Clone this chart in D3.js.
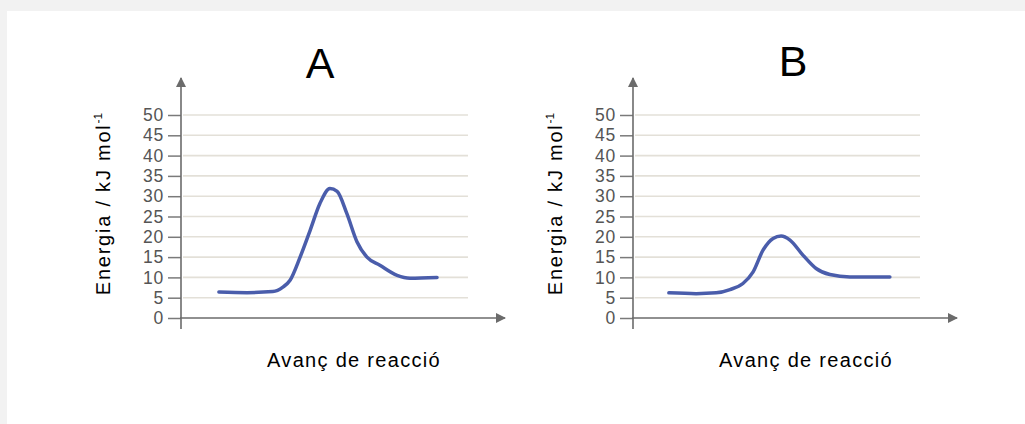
<!DOCTYPE html>
<html>
<head>
<meta charset="utf-8">
<script src="https://cdn.jsdelivr.net/npm/d3@7"></script>
<style>
  html, body { margin: 0; padding: 0; background: #f2f2f2; }
  svg { display: block; }
</style>
</head>
<body>
<svg id="chart" width="1025" height="424"></svg>
<script>
// values (reaction progress 0-100, energy kJ/mol)
var yTicks = [0, 5, 10, 15, 20, 25, 30, 35, 40, 45, 50];
var progressA = [13.2, 23, 32, 35.5, 38, 41.5, 45, 48.4, 51.9, 54.4, 57.8, 61.3, 64.8, 69.3, 75.3, 79.8, 89.2];
var energyA   = [6.4, 6.25, 6.5, 7.6, 9.3, 15, 21.6, 28.2, 31.9, 31.2, 25.7, 18.8, 15, 13, 10.5, 9.8, 10];
var progressB = [12.5, 22, 29, 33.8, 38.3, 41.8, 45.3, 48.8, 51.6, 54.7, 59.2, 63.8, 68.6, 75.6, 89.5];
var energyB   = [6.2, 6.0, 6.2, 7.0, 8.5, 11.3, 16.7, 19.6, 20.2, 19.2, 15.5, 12.2, 10.7, 10.1, 10.1];
var titles = ["A", "B"];
var yLabel = "Energia / kJ mol";
var xLabel = "Avanç de reacció";

var svg = d3.select("#chart");
svg.append("rect").attr("x", 7).attr("y", 11).attr("width", 1018).attr("height", 413).attr("fill", "#fff");

var defs = svg.append("defs");
defs.append("marker")
  .attr("id", "arrow")
  .attr("viewBox", "0 0 10 10")
  .attr("refX", 9).attr("refY", 5)
  .attr("markerWidth", 16).attr("markerHeight", 10)
  .attr("markerUnits", "userSpaceOnUse")
  .attr("orient", "auto")
  .append("path")
  .attr("d", "M0,0 L10,5 L0,10 z")
  .attr("fill", "#6b6b6b");

var font = "'Liberation Sans', Arial, Helvetica, sans-serif";

var y = d3.scaleLinear().domain([0, 50]).range([318, 115]);
var panels = [
  { left: 181, title: titles[0], prog: progressA, en: energyA, titleX: 320, titleY: 78 },
  { left: 633, title: titles[1], prog: progressB, en: energyB, titleX: 793, titleY: 76 }
];

panels.forEach(function (p) {
  var x = d3.scaleLinear().domain([0, 100]).range([p.left, p.left + 287]);
  var g = svg.append("g");

  // grid lines
  g.selectAll(".grid")
    .data(yTicks.filter(function (d) { return d > 0; }))
    .enter().append("line")
    .attr("x1", p.left + 2).attr("x2", x(100))
    .attr("y1", function (d) { return y(d); })
    .attr("y2", function (d) { return y(d); })
    .attr("stroke", "#e3e0d8").attr("stroke-width", 1.6);

  // y axis with ticks
  var yAxis = g.append("g")
    .attr("transform", "translate(" + p.left + ",0)")
    .call(d3.axisLeft(y).tickValues(yTicks).tickSize(13).tickPadding(4).tickSizeOuter(0));
  yAxis.select(".domain").remove();
  yAxis.selectAll(".tick line").attr("stroke", "#7a7a7a").attr("stroke-width", 1.5);
  yAxis.selectAll(".tick text")
    .attr("fill", "#555").attr("font-size", "17.5px").attr("font-family", font)
    .attr("letter-spacing", "0.8px");

  // axis lines with arrows
  g.append("line")
    .attr("x1", p.left).attr("x2", p.left)
    .attr("y1", 329).attr("y2", 78)
    .attr("stroke", "#6b6b6b").attr("stroke-width", 1.6)
    .attr("marker-end", "url(#arrow)");
  g.append("line")
    .attr("x1", p.left - 1).attr("x2", p.left + 324)
    .attr("y1", y(0)).attr("y2", y(0))
    .attr("stroke", "#6b6b6b").attr("stroke-width", 1.6)
    .attr("marker-end", "url(#arrow)");

  // curve
  var pts = p.prog.map(function (d, i) { return [d, p.en[i]]; });
  var line = d3.line()
    .x(function (d) { return x(d[0]); })
    .y(function (d) { return y(d[1]); })
    .curve(d3.curveMonotoneX);
  g.append("path")
    .datum(pts)
    .attr("d", line)
    .attr("fill", "none")
    .attr("stroke", "#4a5dab")
    .attr("stroke-width", 3.5)
    .attr("stroke-linecap", "round")
    .attr("stroke-linejoin", "round");

  // title
  g.append("text")
    .attr("x", p.titleX).attr("y", p.titleY)
    .attr("text-anchor", "middle")
    .attr("font-family", font).attr("font-size", "43px")
    .attr("fill", "#000")
    .text(p.title);

  // y label
  var yl = g.append("text")
    .attr("transform", "translate(" + (p.left - 71) + ",204) rotate(-90)")
    .attr("text-anchor", "middle")
    .attr("font-family", font).attr("font-size", "20px")
    .attr("fill", "#000")
    .style("text-rendering", "geometricPrecision");
  yl.append("tspan").attr("textLength", 170).attr("lengthAdjust", "spacing").text(yLabel);
  yl.append("tspan").attr("dy", -8).attr("font-size", "12px").text("-1");

  // x label
  g.append("text")
    .attr("x", p.left + 173).attr("y", 367)
    .attr("text-anchor", "middle")
    .attr("font-family", font).attr("font-size", "20px")
    .attr("letter-spacing", "1.3px")
    .attr("fill", "#000")
    .text(xLabel);
});
</script>
</body>
</html>
